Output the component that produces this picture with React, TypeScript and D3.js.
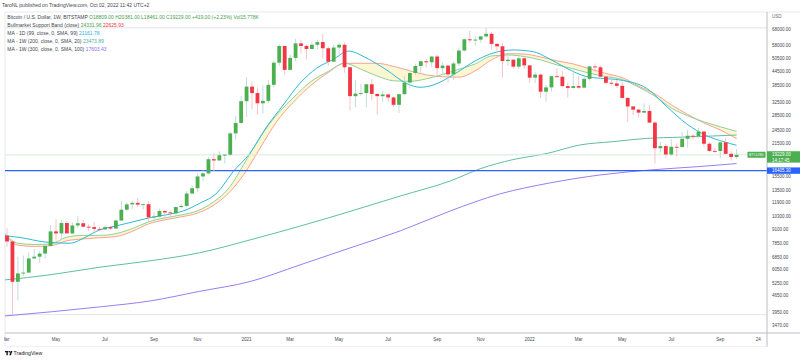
import React, { useEffect } from "react";
import * as d3 from "d3";

// ---------- DATA ----------
const START_DATE = "2020-03-02"; // week of first candle
const opens = [8530,8040,5360,5830,5880,6780,6900,7120,7690,8900,8720,9680,8720,9450,9660,9330,9290,9130,9080,9290,9160,9930,11070,11680,11860,11650,11700,10250,10330,10920,10770,10670,11370,11500,13030,13740,15470,15950,18400,18170,19150,19260,23860,26500,33000,38200,35800,32300,33100,38900,48600,57500,45200,51000,59000,57500,55800,58200,59800,56200,49100,56600,58200,46400,34700,35600,35800,39100,35500,34700,35300,34250,31800,35400,39800,43800,47000,49300,48800,51700,46000,47200,43200,48200,54900,61500,60900,61300,63300,65000,58700,57300,49400,50100,46700,50800,47300,41800,43100,36300,37900,42400,42200,38400,37700,38400,37800,41300,46800,46400,42200,39700,39450,38500,34100,31300,30300,29400,29900,26600,20550,21000,19300,20850,20800,22600,23300,23200,24300,21500,20000,19990,21800,19420,18809];
const highs = [9190,8180,6900,6980,7200,7470,7290,7760,9460,10050,9950,9890,9760,10380,9990,9580,9790,9340,9450,9330,9990,12120,11900,12100,12480,11800,12090,10770,11180,10990,10970,11490,11740,13350,14090,15960,16480,18800,19480,19920,19420,24200,28380,34800,41950,40100,37850,38600,40900,49700,58350,57550,52600,61700,61200,58400,60100,61300,64900,57500,58400,59500,59600,46600,40800,39300,39400,41300,35600,36600,35500,34600,35500,42600,45300,48100,49400,50500,51900,52900,48800,47300,49200,56600,62000,67000,63700,63500,69000,66300,59300,59200,51900,50200,51800,52100,47500,44400,43500,38900,42600,45800,44800,39800,45400,42600,42300,46900,48200,47100,42400,42900,40800,40000,34200,31400,30600,32300,31700,26900,21900,21500,22500,21600,24250,24700,23650,25200,24450,21800,20600,22400,22800,19950,20381];
const lows = [7630,3850,4440,5680,5860,6760,6470,6780,7640,8100,8200,8810,8640,9260,9240,8920,8850,8900,9050,9000,9130,9900,10950,11150,11380,11100,9820,9880,10280,10140,10380,10530,11200,11400,12920,13200,14820,15790,16200,18140,17650,19000,22400,26300,28200,30400,28800,29200,32300,37900,47100,43000,44950,49300,53300,50300,55500,55500,51000,47000,48800,52900,43900,30000,31100,34800,31000,33400,28800,32700,32700,31100,29300,35200,37600,42800,43900,46300,46500,42800,43300,39600,40800,46900,54400,59500,57800,59500,62300,55600,53300,42000,47100,45700,45600,45700,39700,39600,34000,32900,36300,41700,38000,34300,37500,37200,37600,40500,44300,42100,39200,38600,37700,33700,26700,28700,28000,29300,26500,17600,19700,18700,19000,18900,20700,20700,22400,22700,20800,19800,19600,18600,19400,18150,18461];
const closes = [8040,5360,5830,5880,6780,6900,7120,7690,8900,8720,9680,8720,9450,9660,9330,9290,9130,9080,9290,9160,9930,11070,11680,11860,11650,11700,10250,10330,10920,10770,10670,11370,11500,13030,13740,15470,15950,18400,18170,19150,19260,23860,26500,33000,38200,35800,32300,33100,38900,48600,57500,45200,51000,59000,57500,55800,58200,59800,56200,49100,56600,58200,46400,34700,35600,35800,39100,35500,34700,35300,34250,31800,35400,39800,43800,47000,49300,48800,51700,46000,47200,43200,48200,54900,61500,60900,61300,63300,65000,58700,57300,49400,50100,46700,50800,47300,41800,43100,36300,37900,42400,42200,38400,37700,38400,37800,41300,46800,46400,42200,39700,39450,38500,34100,31300,30300,29400,29900,26600,20550,21000,19300,20850,20800,22600,23300,23200,24300,21500,20000,19990,21800,19420,18810,19229];

// MA lines: [week offset from START_DATE, price]
const ma99Daily: [number, number][] = [[-0.4,8530],[2.4,8370],[7,8000],[11.6,7900],[14.3,8370],[17,9030],[20,9400],[23,9780],[26.3,10220],[29.4,10530],[32.3,10920],[35.4,11810],[38.6,13130],[41.5,16200],[44.6,19500],[47.7,25500],[50.7,31700],[53.8,39500],[56.9,46000],[59.9,50200],[62.7,54600],[66.1,50800],[69.7,45200],[73.4,39400],[75.9,37950],[78.3,38830],[81.9,42940],[86.3,49930],[89.3,53560],[93,55220],[96.7,54260],[99.1,51300],[102.8,45930],[106.5,42200],[109,41540],[112.6,40830],[117.5,37500],[121.2,31200],[124.8,26290],[128.5,23300],[131.5,22000],[134,21161.78]];
const ma200Weekly: [number, number][] = [[-0.4,5460],[7.9,5750],[17.1,6210],[26.3,6620],[35.4,7180],[44.6,8165],[53.8,9380],[63,10880],[72.2,12700],[81.4,14780],[86.9,16710],[92.9,18320],[99.2,19500],[105.2,21230],[111.3,21950],[117.5,22690],[123.6,22960],[129.6,23240],[134,23473.89]];
const ma300Weekly: [number, number][] = [[-0.4,3800],[17.1,4165],[26.3,4420],[35.4,4870],[44.6,5370],[53.8,6350],[63,7535],[72.2,8940],[81.4,10930],[90.5,12970],[99.7,14490],[108.9,15700],[118.1,16510],[127.3,17100],[134,17603.43]];

const bandWeeks = [-0.4,2,5,8,11,14,17,20,23,26,29,32,35,38,41,43.5,46.5,49.5,52.5,56,59,62,65,68,71,74,77,80,83,86,89,92,95,98,101,104,107,110,113,116,119,122,125,128,131,134];
const bandGreen = [8710,7900,7800,7850,8400,8550,8550,8700,9150,9800,10200,10500,10950,12000,14000,17500,23000,28700,34000,40500,44500,48300,45500,42500,40500,40300,41300,43200,45500,48000,52000,52500,51700,50000,47500,45700,43700,42300,41000,38000,34700,30800,28500,26800,25500,24331.96];
const bandRed = [8600,7750,7650,7700,8100,8250,8350,8450,8900,9600,10000,10300,10700,11600,13300,15800,20600,26800,32500,39000,44000,48300,48300,48300,46800,44800,43000,42200,42000,44800,50000,53200,53000,51500,49500,48000,45700,43600,41800,38400,35500,31800,28900,26500,24700,22625.93];

const priceTicks = [68000,58000,50500,44500,38500,32500,28500,24500,21500,15500,13500,11900,10300,9100,7850,6850,6050,5250,4650,3950,3470];
const levelLines = [69000, 3850];
const supportLevel = 16405.3;
const lastPrice = 19229;

const timeTickDates = ["2020-03-02","2020-05-04","2020-07-06","2020-09-07","2020-11-02","2021-01-04","2021-03-01","2021-05-03","2021-07-05","2021-09-06","2021-11-01","2022-01-03","2022-03-07","2022-05-02","2022-07-04","2022-09-05","2022-10-24"];
const timeTickLabels = ["Mar","May","Jul","Sep","Nov","2021","Mar","May","Jul","Sep","Nov","2022","Mar","May","Jul","Sep","24"];

// ---------- STYLE ----------
const UP = "#4caf50";
const DOWN = "#f23645";
const WICK_UP = "#bcd6dc";
const WICK_DOWN = "#f8bcc1";
const CYAN = "#2cbad8";
const TEAL = "#5fbf9f";
const PURPLE = "#9c7cf4";
const BAND_G = "#93d09b";
const BAND_R = "#f5a493";
const BAND_FILL = "#fdf6d3";
const FONT = "'Liberation Sans', Arial, sans-serif";

const PL = 5, PR = 767, PT = 12, PB = 333;

export default function App() {
  useEffect(() => {
    document.body.style.margin = "0";
  }, []);

  const start = new Date(START_DATE + "T00:00:00Z").getTime();
  const wd = (w: number) => new Date(start + w * 7 * 86400000);

  const x = d3.scaleUtc()
    .domain([wd(0), wd(134)])
    .range([7, 736.6]);
  const y = d3.scaleLog().domain([3470, 68000]).range([325, 29.3]);

  const line = d3.line<[number, number]>()
    .x((d) => x(wd(d[0])))
    .y((d) => y(d[1]))
    .curve(d3.curveMonotoneX);

  const bandIdx = bandWeeks.map((_, i) => i);
  const area = d3.area<number>()
    .x((i) => x(wd(bandWeeks[i])))
    .y0((i) => y(bandRed[i]))
    .y1((i) => y(bandGreen[i]))
    .curve(d3.curveMonotoneX);
  const gLine = d3.line<number>().x((i) => x(wd(bandWeeks[i]))).y((i) => y(bandGreen[i])).curve(d3.curveMonotoneX);
  const rLine = d3.line<number>().x((i) => x(wd(bandWeeks[i]))).y((i) => y(bandRed[i])).curve(d3.curveMonotoneX);

  const bw = 3.8;
  const ySup = y(supportLevel);
  const yLast = y(lastPrice);

  return (
    <svg width={800} height={361} viewBox="0 0 800 361" style={{ display: "block", position: "absolute", left: 0, top: 0, background: "#fff" }} fontFamily={FONT}>
      <defs>
        <clipPath id="plot"><rect x={PL} y={PT} width={PR - PL} height={PB - PT} /></clipPath>
        <clipPath id="taxis"><rect x={4.2} y={PB} width={PR - 4.2} height={14} /></clipPath>
      </defs>
      <rect x={0} y={0} width={800} height={361} fill="#fff" />

      {/* header */}
      <text x={2} y={7} fontSize={5} fill="#434651">TaroNL published on TradingView.com, Oct 02, 2022 11:42 UTC+2</text>

      {/* frame */}
      <line x1={PL} x2={800} y1={PT} y2={PT} stroke="#e0e3eb" strokeWidth={0.8} />
      <line x1={PL} x2={PL} y1={PT} y2={347} stroke="#e0e3eb" strokeWidth={0.8} />

      <g clipPath="url(#plot)">
        {levelLines.map((v) => (
          <line key={v} x1={PL} x2={PR} y1={y(v)} y2={y(v)} stroke="#dfe1e6" strokeWidth={0.9} />
        ))}
        <path d={area(bandIdx) || ""} fill={BAND_FILL} />
        <path d={rLine(bandIdx) || ""} fill="none" stroke={BAND_R} strokeWidth={1} />
        <path d={gLine(bandIdx) || ""} fill="none" stroke={BAND_G} strokeWidth={1} />
        <path d={line(ma200Weekly) || ""} fill="none" stroke={TEAL} strokeWidth={1} />
        <path d={line(ma300Weekly) || ""} fill="none" stroke={PURPLE} strokeWidth={1} />
        <path d={line(ma99Daily) || ""} fill="none" stroke={CYAN} strokeWidth={1} />
        <line x1={PL} x2={PR} y1={yLast} y2={yLast} stroke="#d4ebd5" strokeWidth={1} />
        <line x1={PL} x2={PR} y1={ySup} y2={ySup} stroke="#2962ff" strokeWidth={1.2} />
        {closes.map((c, i) => {
          const o = opens[i];
          const up = c >= o;
          const cx = x(wd(i));
          const yt = y(Math.max(o, c));
          const yb = y(Math.min(o, c));
          return (
            <g key={i}>
              <line x1={cx} x2={cx} y1={y(highs[i])} y2={y(lows[i])} stroke={up ? WICK_UP : WICK_DOWN} strokeWidth={0.9} />
              <rect x={cx - bw / 2} y={yt} width={bw} height={Math.max(0.9, yb - yt)} fill={up ? UP : DOWN} />
            </g>
          );
        })}
      </g>

      {/* legend */}
      <g fontSize={5}>
        <text x={7.3} y={19}>
          <tspan fill="#434651">Bitcoin / U.S. Dollar, 1W, BITSTAMP </tspan>
          <tspan fill="#3fa14a">O18809.00 H20381.00 L18461.00 C19229.00 +419.00 (+2.23%) Vol15.778K</tspan>
        </text>
        <text x={7.3} y={27.3}>
          <tspan fill="#434651">Bullmarket Support Band (close) </tspan>
          <tspan fill="#3fa14a">24331.96 </tspan>
          <tspan fill="#f23645">22625.93</tspan>
        </text>
        <text x={7.3} y={35}>
          <tspan fill="#434651">MA - 1D (99, close, 0, SMA, 99) </tspan>
          <tspan fill="#22b5d6">21161.78</tspan>
        </text>
        <text x={7.3} y={42.8}>
          <tspan fill="#434651">MA - 1W (200, close, 0, SMA, 20) </tspan>
          <tspan fill="#3fb39a">23473.89</tspan>
        </text>
        <text x={7.3} y={50.7}>
          <tspan fill="#434651">MA - 1W (300, close, 0, SMA, 100) </tspan>
          <tspan fill="#8f6cf0">17603.43</tspan>
        </text>
      </g>

      {/* right axis */}
      <line x1={PR} x2={PR} y1={PT} y2={347} stroke="#b2b5be" strokeWidth={0.9} />
      <text x={772} y={17.7} fontSize={4.5} fill="#6a6d78">USD</text>
      <g fontSize={4.5} fill="#434651">
        {priceTicks.map((v) => (
          <text key={v} x={772} y={y(v)} dy="0.35em">{v.toFixed(2)}</text>
        ))}
      </g>
      {/* last price labels */}
      <rect x={747.5} y={yLast - 3} width={18} height={6} fill={UP} rx={0.6} />
      <text x={756.5} y={yLast} dy="0.35em" fontSize={3.6} fill="#fff" textAnchor="middle">BTCUSD</text>
      <rect x={PR} y={yLast - 3.6} width={33} height={11.4} fill={UP} />
      <text x={772} y={yLast} dy="0.35em" fontSize={4.5} fill="#fff">19229.00</text>
      <text x={772} y={yLast + 5.6} dy="0.35em" fontSize={4.5} fill="#fff">14:17:45</text>
      {/* support label */}
      <rect x={PR} y={ySup - 3.2} width={33} height={6.4} fill="#2962ff" />
      <text x={772} y={ySup} dy="0.35em" fontSize={4.5} fill="#fff">{supportLevel.toFixed(2)}</text>

      {/* time axis */}
      <line x1={PL} x2={800} y1={PB} y2={PB} stroke="#b2b5be" strokeWidth={0.9} />
      <line x1={PL} x2={PR} y1={346.5} y2={346.5} stroke="#eceef2" strokeWidth={0.8} />
      <g fontSize={4.5} fill="#434651" textAnchor="middle" clipPath="url(#taxis)">
        {timeTickDates.map((d, i) => (
          <text key={d} x={x(new Date(d + "T00:00:00Z")) - (i === 0 ? 1.5 : 0)} y={341.3}>{timeTickLabels[i]}</text>
        ))}
      </g>

      {/* logo */}
      <g fill="#131722">
        <rect x={5} y={351} width={3.4} height={1.3} />
        <rect x={6.4} y={351} width={1.4} height={4.2} />
        <circle cx={9.4} cy={351.8} r={0.8} />
        <polygon points="10.6,351 12.4,351 10.9,355.2 9.3,355.2" />
      </g>
      <text x={13.6} y={355.2} fontSize={5.2} fill="#131722">TradingView</text>
    </svg>
  );
}
